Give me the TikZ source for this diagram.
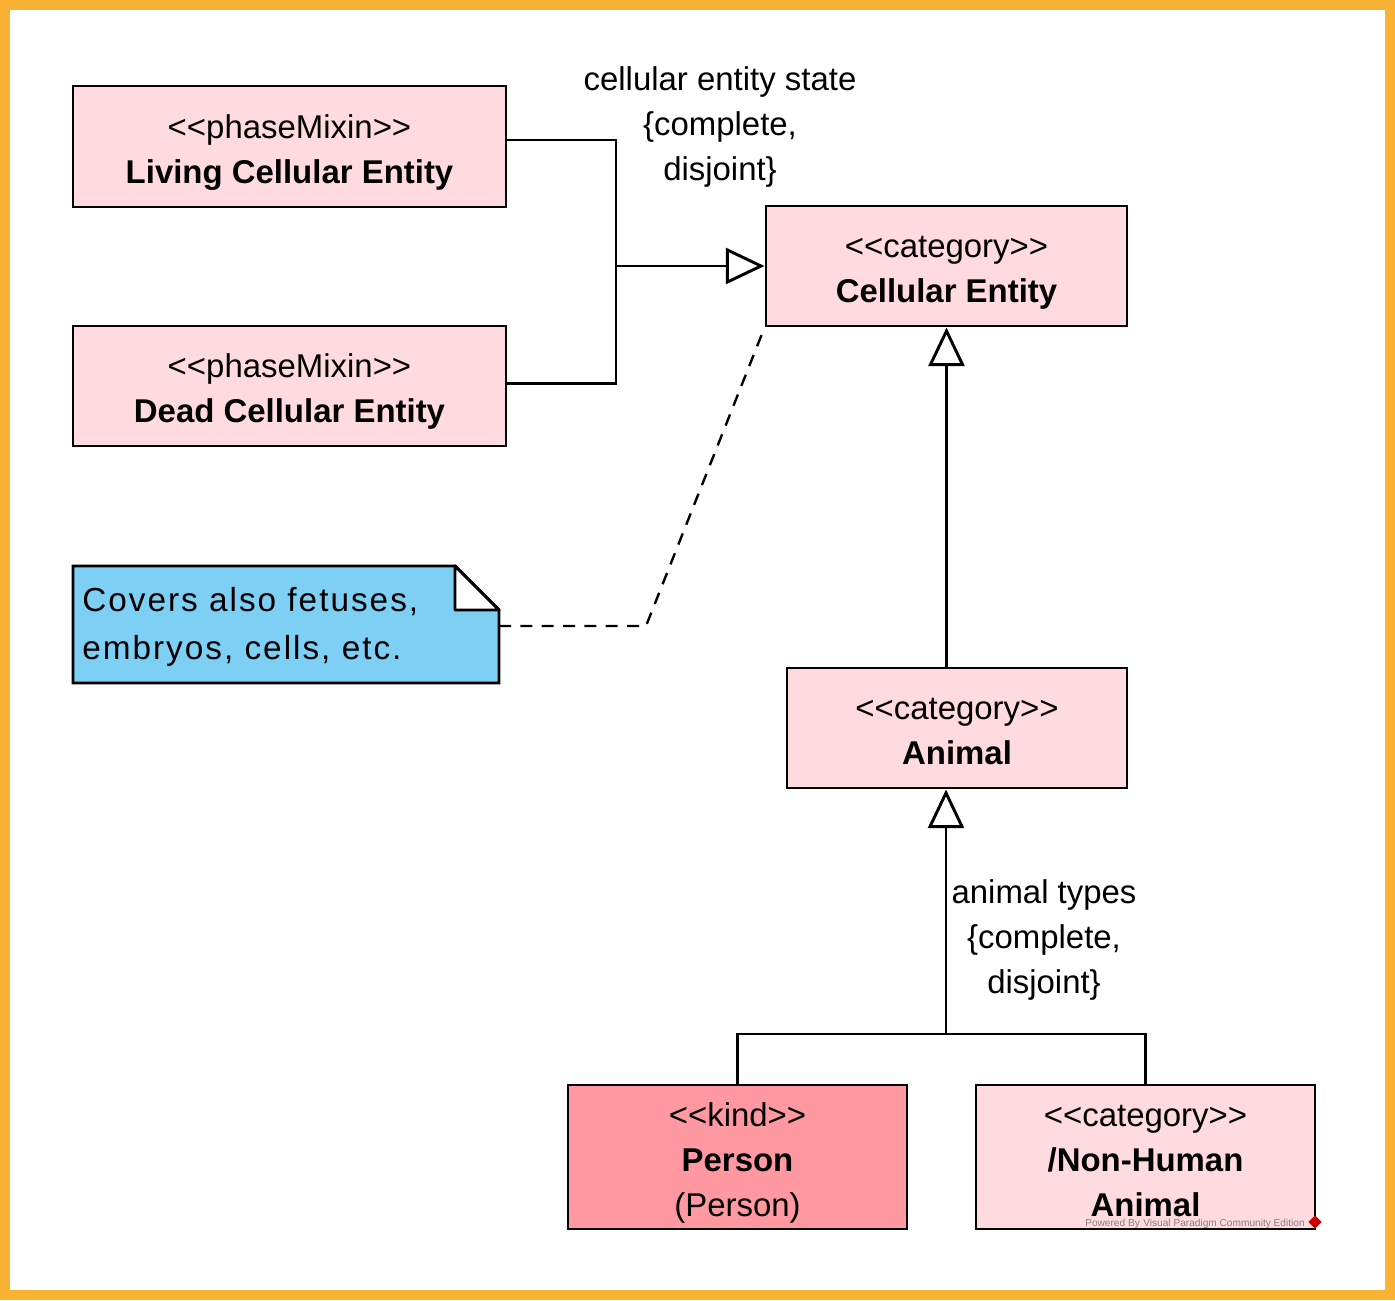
\documentclass[tikz,border=0pt]{standalone}
\usepackage{fontspec}
\setmainfont{Liberation Sans}
\usetikzlibrary{arrows.meta}
\definecolor{frameorange}{HTML}{F9B233}
\definecolor{classpink}{HTML}{FFDBDF}
\definecolor{kindpink}{HTML}{FF98A1}
\definecolor{noteblue}{HTML}{7ECFF4}
\newcommand\umlfont{\fontsize{24.7pt}{33.75pt}\selectfont}
\newcommand\notefont{\fontsize{25pt}{36pt}\selectfont\addfontfeature{LetterSpace=6}}
\newcommand\stereo[1]{\rule{0pt}{26.5pt}<\kern0pt<#1>\kern0pt>}
\newcommand\classend{\rule[-5.5pt]{0pt}{5.5pt}}
\tikzset{
    classbox/.style 2 args={draw=black, fill=classpink, line width=2.2pt, align=center,
        font=\umlfont, minimum width=#1*0.75pt, minimum height=#2*0.75pt, inner sep=0pt},
    conn/.style={line width=2.2pt},
    genarrow/.style={conn, -{Triangle[open, length=29pt, width=27pt]}},
    tagtext/.style={align=center, font=\umlfont, inner sep=0pt},
}
\begin{document}
\begin{tikzpicture}[x=0.75pt, y=-0.75pt]
    \useasboundingbox (0,0) rectangle (1395,1300);
    \fill[frameorange] (0,0) rectangle (1395,1300);
    \fill[white] (10,10) rectangle (1385,1290);
    % classes
    \node[classbox={433}{121}] (living) at (289.5,146.5) {\stereo{phaseMixin}\\\textbf{Living Cellular Entity}\classend};
    \node[classbox={433}{120}] (dead) at (289.5,386) {\stereo{phaseMixin}\\\textbf{Dead Cellular Entity}\classend};
    \node[classbox={361}{120}] (cell) at (946.5,266) {\stereo{category}\\\textbf{Cellular Entity}\classend};
    \node[classbox={340}{120}] (animal) at (957,728) {\stereo{category}\\\textbf{Animal}\classend};
    \node[classbox={339}{144}, fill=kindpink] (person) at (737.5,1157) {\stereo{kind}\\\textbf{Person}\\(Person)\classend};
    \node[classbox={339}{144}] (nonhuman) at (1145.5,1157) {\stereo{category}\\\textbf{/Non-Human}\\\textbf{Animal}\classend};
    % note
    \filldraw[fill=noteblue, line width=2.2pt] (73,566) -- (455,566) -- (499,610) -- (499,683) -- (73,683) -- cycle;
    \filldraw[fill=white, line width=2.2pt, line join=round] (455,566) -- (455,610) -- (499,610) -- cycle;
    \node[anchor=west, align=left, font=\notefont, inner sep=0pt] (note) at (82,627) {Covers also fetuses,\\embryos, cells, etc.};
    \coordinate (noteend) at (499,626);
    % generalization sets
    \coordinate (join) at (616,266);
    \draw[conn] ([yshift=4.9pt]living.east) -| (join);
    \draw[conn] ([yshift=2.2pt]dead.east) -| (join);
    \draw[genarrow] (join) -- (cell.west);
    \draw[genarrow] (cell.south |- animal.north) -- (cell.south);
    \coordinate (split) at (946,1034);
    \draw[conn] (person.north) |- (split) -| (nonhuman.north);
    \draw[genarrow] (split) -- (split |- animal.south);
    \node[tagtext] (celltag) at (720,127) {cellular entity state\\\{complete,\\disjoint\}};
    \node[tagtext] (animaltag) at (1044,940) {animal types\\\{complete,\\disjoint\}};
    % anchor line of the note
    \draw[conn, line width=1.8pt, dash pattern=on 9pt off 7pt] (noteend) -- (646,626) -- (cell.south west);
    % tool mark
    \node[anchor=east, font=\fontsize{7.6pt}{8pt}\selectfont, text=gray, inner sep=0pt] (vpmark) at (1305,1224) {Powered By\,\,Visual Paradigm Community Edition};
    \node[fill=red!80!black, rotate=45, minimum size=7pt, inner sep=0pt] (vplogo) at (1315,1222) {};
\end{tikzpicture}
\end{document}
